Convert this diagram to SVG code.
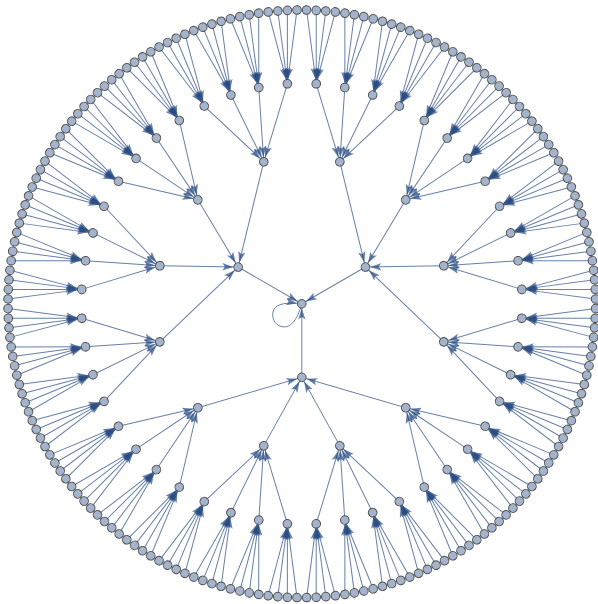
<svg xmlns="http://www.w3.org/2000/svg" width="598" height="604" viewBox="0 0 598 604">
<style>
#edges line,#edges path{stroke:#264a80;stroke-opacity:.7;stroke-width:1;fill:none;marker-end:url(#ah)}
#nodes circle{fill:#a3b4cc;stroke:#4d4d4d;stroke-width:1}
</style>
<defs>
<marker id="ah" markerUnits="userSpaceOnUse" markerWidth="18" markerHeight="8" refX="15.8" refY="4" orient="auto">
<path d="M0,0.3 L11,4 L0,7.7 L2.5,4 Z" fill="#264a80" fill-opacity="0.7"/>
</marker>
</defs>
<rect width="598" height="604" fill="#fff"/>
<g transform="translate(301.8,303.8)">
<g id="edges">
<path d="M0,0 C-5,18 -12,24 -19,23 C-28,22 -31,12 -28,6 C-25,0 -15,-2 0,0"/>
<g transform="rotate(90)"><line x1="73.5" x2="0"/></g>
<g transform="rotate(210)"><line x1="73.5" x2="0"/></g>
<g transform="rotate(330)"><line x1="73.5" x2="0"/></g>
<g transform="rotate(90)"><line x1="103.945" y1="-103.945" x2="73.5"/><line x1="141.991" y1="-38.046" x2="73.5"/><line x1="141.991" y1="38.046" x2="73.5"/><line x1="103.945" y1="103.945" x2="73.5"/></g>
<g transform="rotate(210)"><line x1="103.945" y1="-103.945" x2="73.5"/><line x1="141.991" y1="-38.046" x2="73.5"/><line x1="141.991" y1="38.046" x2="73.5"/><line x1="103.945" y1="103.945" x2="73.5"/></g>
<g transform="rotate(330)"><line x1="103.945" y1="-103.945" x2="73.5"/><line x1="141.991" y1="-38.046" x2="73.5"/><line x1="141.991" y1="38.046" x2="73.5"/><line x1="103.945" y1="103.945" x2="73.5"/></g>
<g transform="rotate(15)"><line x1="216.263" y1="-43.017" x2="147"/><line x1="220.028" y1="-14.421" x2="147"/><line x1="220.028" y1="14.421" x2="147"/><line x1="216.263" y1="43.017" x2="147"/></g>
<g transform="rotate(45)"><line x1="216.263" y1="-43.017" x2="147"/><line x1="220.028" y1="-14.421" x2="147"/><line x1="220.028" y1="14.421" x2="147"/><line x1="216.263" y1="43.017" x2="147"/></g>
<g transform="rotate(75)"><line x1="216.263" y1="-43.017" x2="147"/><line x1="220.028" y1="-14.421" x2="147"/><line x1="220.028" y1="14.421" x2="147"/><line x1="216.263" y1="43.017" x2="147"/></g>
<g transform="rotate(105)"><line x1="216.263" y1="-43.017" x2="147"/><line x1="220.028" y1="-14.421" x2="147"/><line x1="220.028" y1="14.421" x2="147"/><line x1="216.263" y1="43.017" x2="147"/></g>
<g transform="rotate(135)"><line x1="216.263" y1="-43.017" x2="147"/><line x1="220.028" y1="-14.421" x2="147"/><line x1="220.028" y1="14.421" x2="147"/><line x1="216.263" y1="43.017" x2="147"/></g>
<g transform="rotate(165)"><line x1="216.263" y1="-43.017" x2="147"/><line x1="220.028" y1="-14.421" x2="147"/><line x1="220.028" y1="14.421" x2="147"/><line x1="216.263" y1="43.017" x2="147"/></g>
<g transform="rotate(195)"><line x1="216.263" y1="-43.017" x2="147"/><line x1="220.028" y1="-14.421" x2="147"/><line x1="220.028" y1="14.421" x2="147"/><line x1="216.263" y1="43.017" x2="147"/></g>
<g transform="rotate(225)"><line x1="216.263" y1="-43.017" x2="147"/><line x1="220.028" y1="-14.421" x2="147"/><line x1="220.028" y1="14.421" x2="147"/><line x1="216.263" y1="43.017" x2="147"/></g>
<g transform="rotate(255)"><line x1="216.263" y1="-43.017" x2="147"/><line x1="220.028" y1="-14.421" x2="147"/><line x1="220.028" y1="14.421" x2="147"/><line x1="216.263" y1="43.017" x2="147"/></g>
<g transform="rotate(285)"><line x1="216.263" y1="-43.017" x2="147"/><line x1="220.028" y1="-14.421" x2="147"/><line x1="220.028" y1="14.421" x2="147"/><line x1="216.263" y1="43.017" x2="147"/></g>
<g transform="rotate(315)"><line x1="216.263" y1="-43.017" x2="147"/><line x1="220.028" y1="-14.421" x2="147"/><line x1="220.028" y1="14.421" x2="147"/><line x1="216.263" y1="43.017" x2="147"/></g>
<g transform="rotate(345)"><line x1="216.263" y1="-43.017" x2="147"/><line x1="220.028" y1="-14.421" x2="147"/><line x1="220.028" y1="14.421" x2="147"/><line x1="216.263" y1="43.017" x2="147"/></g>
<g transform="rotate(3.75)"><line x1="293.446" y1="-14.416" x2="220.5"/><line x1="293.761" y1="-4.807" x2="220.5"/><line x1="293.761" y1="4.807" x2="220.5"/><line x1="293.446" y1="14.416" x2="220.5"/></g>
<g transform="rotate(11.25)"><line x1="293.446" y1="-14.416" x2="220.5"/><line x1="293.761" y1="-4.807" x2="220.5"/><line x1="293.761" y1="4.807" x2="220.5"/><line x1="293.446" y1="14.416" x2="220.5"/></g>
<g transform="rotate(18.75)"><line x1="293.446" y1="-14.416" x2="220.5"/><line x1="293.761" y1="-4.807" x2="220.5"/><line x1="293.761" y1="4.807" x2="220.5"/><line x1="293.446" y1="14.416" x2="220.5"/></g>
<g transform="rotate(26.25)"><line x1="293.446" y1="-14.416" x2="220.5"/><line x1="293.761" y1="-4.807" x2="220.5"/><line x1="293.761" y1="4.807" x2="220.5"/><line x1="293.446" y1="14.416" x2="220.5"/></g>
<g transform="rotate(33.75)"><line x1="293.446" y1="-14.416" x2="220.5"/><line x1="293.761" y1="-4.807" x2="220.5"/><line x1="293.761" y1="4.807" x2="220.5"/><line x1="293.446" y1="14.416" x2="220.5"/></g>
<g transform="rotate(41.25)"><line x1="293.446" y1="-14.416" x2="220.5"/><line x1="293.761" y1="-4.807" x2="220.5"/><line x1="293.761" y1="4.807" x2="220.5"/><line x1="293.446" y1="14.416" x2="220.5"/></g>
<g transform="rotate(48.75)"><line x1="293.446" y1="-14.416" x2="220.5"/><line x1="293.761" y1="-4.807" x2="220.5"/><line x1="293.761" y1="4.807" x2="220.5"/><line x1="293.446" y1="14.416" x2="220.5"/></g>
<g transform="rotate(56.25)"><line x1="293.446" y1="-14.416" x2="220.5"/><line x1="293.761" y1="-4.807" x2="220.5"/><line x1="293.761" y1="4.807" x2="220.5"/><line x1="293.446" y1="14.416" x2="220.5"/></g>
<g transform="rotate(63.75)"><line x1="293.446" y1="-14.416" x2="220.5"/><line x1="293.761" y1="-4.807" x2="220.5"/><line x1="293.761" y1="4.807" x2="220.5"/><line x1="293.446" y1="14.416" x2="220.5"/></g>
<g transform="rotate(71.25)"><line x1="293.446" y1="-14.416" x2="220.5"/><line x1="293.761" y1="-4.807" x2="220.5"/><line x1="293.761" y1="4.807" x2="220.5"/><line x1="293.446" y1="14.416" x2="220.5"/></g>
<g transform="rotate(78.75)"><line x1="293.446" y1="-14.416" x2="220.5"/><line x1="293.761" y1="-4.807" x2="220.5"/><line x1="293.761" y1="4.807" x2="220.5"/><line x1="293.446" y1="14.416" x2="220.5"/></g>
<g transform="rotate(86.25)"><line x1="293.446" y1="-14.416" x2="220.5"/><line x1="293.761" y1="-4.807" x2="220.5"/><line x1="293.761" y1="4.807" x2="220.5"/><line x1="293.446" y1="14.416" x2="220.5"/></g>
<g transform="rotate(93.75)"><line x1="293.446" y1="-14.416" x2="220.5"/><line x1="293.761" y1="-4.807" x2="220.5"/><line x1="293.761" y1="4.807" x2="220.5"/><line x1="293.446" y1="14.416" x2="220.5"/></g>
<g transform="rotate(101.25)"><line x1="293.446" y1="-14.416" x2="220.5"/><line x1="293.761" y1="-4.807" x2="220.5"/><line x1="293.761" y1="4.807" x2="220.5"/><line x1="293.446" y1="14.416" x2="220.5"/></g>
<g transform="rotate(108.75)"><line x1="293.446" y1="-14.416" x2="220.5"/><line x1="293.761" y1="-4.807" x2="220.5"/><line x1="293.761" y1="4.807" x2="220.5"/><line x1="293.446" y1="14.416" x2="220.5"/></g>
<g transform="rotate(116.25)"><line x1="293.446" y1="-14.416" x2="220.5"/><line x1="293.761" y1="-4.807" x2="220.5"/><line x1="293.761" y1="4.807" x2="220.5"/><line x1="293.446" y1="14.416" x2="220.5"/></g>
<g transform="rotate(123.75)"><line x1="293.446" y1="-14.416" x2="220.5"/><line x1="293.761" y1="-4.807" x2="220.5"/><line x1="293.761" y1="4.807" x2="220.5"/><line x1="293.446" y1="14.416" x2="220.5"/></g>
<g transform="rotate(131.25)"><line x1="293.446" y1="-14.416" x2="220.5"/><line x1="293.761" y1="-4.807" x2="220.5"/><line x1="293.761" y1="4.807" x2="220.5"/><line x1="293.446" y1="14.416" x2="220.5"/></g>
<g transform="rotate(138.75)"><line x1="293.446" y1="-14.416" x2="220.5"/><line x1="293.761" y1="-4.807" x2="220.5"/><line x1="293.761" y1="4.807" x2="220.5"/><line x1="293.446" y1="14.416" x2="220.5"/></g>
<g transform="rotate(146.25)"><line x1="293.446" y1="-14.416" x2="220.5"/><line x1="293.761" y1="-4.807" x2="220.5"/><line x1="293.761" y1="4.807" x2="220.5"/><line x1="293.446" y1="14.416" x2="220.5"/></g>
<g transform="rotate(153.75)"><line x1="293.446" y1="-14.416" x2="220.5"/><line x1="293.761" y1="-4.807" x2="220.5"/><line x1="293.761" y1="4.807" x2="220.5"/><line x1="293.446" y1="14.416" x2="220.5"/></g>
<g transform="rotate(161.25)"><line x1="293.446" y1="-14.416" x2="220.5"/><line x1="293.761" y1="-4.807" x2="220.5"/><line x1="293.761" y1="4.807" x2="220.5"/><line x1="293.446" y1="14.416" x2="220.5"/></g>
<g transform="rotate(168.75)"><line x1="293.446" y1="-14.416" x2="220.5"/><line x1="293.761" y1="-4.807" x2="220.5"/><line x1="293.761" y1="4.807" x2="220.5"/><line x1="293.446" y1="14.416" x2="220.5"/></g>
<g transform="rotate(176.25)"><line x1="293.446" y1="-14.416" x2="220.5"/><line x1="293.761" y1="-4.807" x2="220.5"/><line x1="293.761" y1="4.807" x2="220.5"/><line x1="293.446" y1="14.416" x2="220.5"/></g>
<g transform="rotate(183.75)"><line x1="293.446" y1="-14.416" x2="220.5"/><line x1="293.761" y1="-4.807" x2="220.5"/><line x1="293.761" y1="4.807" x2="220.5"/><line x1="293.446" y1="14.416" x2="220.5"/></g>
<g transform="rotate(191.25)"><line x1="293.446" y1="-14.416" x2="220.5"/><line x1="293.761" y1="-4.807" x2="220.5"/><line x1="293.761" y1="4.807" x2="220.5"/><line x1="293.446" y1="14.416" x2="220.5"/></g>
<g transform="rotate(198.75)"><line x1="293.446" y1="-14.416" x2="220.5"/><line x1="293.761" y1="-4.807" x2="220.5"/><line x1="293.761" y1="4.807" x2="220.5"/><line x1="293.446" y1="14.416" x2="220.5"/></g>
<g transform="rotate(206.25)"><line x1="293.446" y1="-14.416" x2="220.5"/><line x1="293.761" y1="-4.807" x2="220.5"/><line x1="293.761" y1="4.807" x2="220.5"/><line x1="293.446" y1="14.416" x2="220.5"/></g>
<g transform="rotate(213.75)"><line x1="293.446" y1="-14.416" x2="220.5"/><line x1="293.761" y1="-4.807" x2="220.5"/><line x1="293.761" y1="4.807" x2="220.5"/><line x1="293.446" y1="14.416" x2="220.5"/></g>
<g transform="rotate(221.25)"><line x1="293.446" y1="-14.416" x2="220.5"/><line x1="293.761" y1="-4.807" x2="220.5"/><line x1="293.761" y1="4.807" x2="220.5"/><line x1="293.446" y1="14.416" x2="220.5"/></g>
<g transform="rotate(228.75)"><line x1="293.446" y1="-14.416" x2="220.5"/><line x1="293.761" y1="-4.807" x2="220.5"/><line x1="293.761" y1="4.807" x2="220.5"/><line x1="293.446" y1="14.416" x2="220.5"/></g>
<g transform="rotate(236.25)"><line x1="293.446" y1="-14.416" x2="220.5"/><line x1="293.761" y1="-4.807" x2="220.5"/><line x1="293.761" y1="4.807" x2="220.5"/><line x1="293.446" y1="14.416" x2="220.5"/></g>
<g transform="rotate(243.75)"><line x1="293.446" y1="-14.416" x2="220.5"/><line x1="293.761" y1="-4.807" x2="220.5"/><line x1="293.761" y1="4.807" x2="220.5"/><line x1="293.446" y1="14.416" x2="220.5"/></g>
<g transform="rotate(251.25)"><line x1="293.446" y1="-14.416" x2="220.5"/><line x1="293.761" y1="-4.807" x2="220.5"/><line x1="293.761" y1="4.807" x2="220.5"/><line x1="293.446" y1="14.416" x2="220.5"/></g>
<g transform="rotate(258.75)"><line x1="293.446" y1="-14.416" x2="220.5"/><line x1="293.761" y1="-4.807" x2="220.5"/><line x1="293.761" y1="4.807" x2="220.5"/><line x1="293.446" y1="14.416" x2="220.5"/></g>
<g transform="rotate(266.25)"><line x1="293.446" y1="-14.416" x2="220.5"/><line x1="293.761" y1="-4.807" x2="220.5"/><line x1="293.761" y1="4.807" x2="220.5"/><line x1="293.446" y1="14.416" x2="220.5"/></g>
<g transform="rotate(273.75)"><line x1="293.446" y1="-14.416" x2="220.5"/><line x1="293.761" y1="-4.807" x2="220.5"/><line x1="293.761" y1="4.807" x2="220.5"/><line x1="293.446" y1="14.416" x2="220.5"/></g>
<g transform="rotate(281.25)"><line x1="293.446" y1="-14.416" x2="220.5"/><line x1="293.761" y1="-4.807" x2="220.5"/><line x1="293.761" y1="4.807" x2="220.5"/><line x1="293.446" y1="14.416" x2="220.5"/></g>
<g transform="rotate(288.75)"><line x1="293.446" y1="-14.416" x2="220.5"/><line x1="293.761" y1="-4.807" x2="220.5"/><line x1="293.761" y1="4.807" x2="220.5"/><line x1="293.446" y1="14.416" x2="220.5"/></g>
<g transform="rotate(296.25)"><line x1="293.446" y1="-14.416" x2="220.5"/><line x1="293.761" y1="-4.807" x2="220.5"/><line x1="293.761" y1="4.807" x2="220.5"/><line x1="293.446" y1="14.416" x2="220.5"/></g>
<g transform="rotate(303.75)"><line x1="293.446" y1="-14.416" x2="220.5"/><line x1="293.761" y1="-4.807" x2="220.5"/><line x1="293.761" y1="4.807" x2="220.5"/><line x1="293.446" y1="14.416" x2="220.5"/></g>
<g transform="rotate(311.25)"><line x1="293.446" y1="-14.416" x2="220.5"/><line x1="293.761" y1="-4.807" x2="220.5"/><line x1="293.761" y1="4.807" x2="220.5"/><line x1="293.446" y1="14.416" x2="220.5"/></g>
<g transform="rotate(318.75)"><line x1="293.446" y1="-14.416" x2="220.5"/><line x1="293.761" y1="-4.807" x2="220.5"/><line x1="293.761" y1="4.807" x2="220.5"/><line x1="293.446" y1="14.416" x2="220.5"/></g>
<g transform="rotate(326.25)"><line x1="293.446" y1="-14.416" x2="220.5"/><line x1="293.761" y1="-4.807" x2="220.5"/><line x1="293.761" y1="4.807" x2="220.5"/><line x1="293.446" y1="14.416" x2="220.5"/></g>
<g transform="rotate(333.75)"><line x1="293.446" y1="-14.416" x2="220.5"/><line x1="293.761" y1="-4.807" x2="220.5"/><line x1="293.761" y1="4.807" x2="220.5"/><line x1="293.446" y1="14.416" x2="220.5"/></g>
<g transform="rotate(341.25)"><line x1="293.446" y1="-14.416" x2="220.5"/><line x1="293.761" y1="-4.807" x2="220.5"/><line x1="293.761" y1="4.807" x2="220.5"/><line x1="293.446" y1="14.416" x2="220.5"/></g>
<g transform="rotate(348.75)"><line x1="293.446" y1="-14.416" x2="220.5"/><line x1="293.761" y1="-4.807" x2="220.5"/><line x1="293.761" y1="4.807" x2="220.5"/><line x1="293.446" y1="14.416" x2="220.5"/></g>
<g transform="rotate(356.25)"><line x1="293.446" y1="-14.416" x2="220.5"/><line x1="293.761" y1="-4.807" x2="220.5"/><line x1="293.761" y1="4.807" x2="220.5"/><line x1="293.446" y1="14.416" x2="220.5"/></g>
</g>
<g id="nodes">
<g id="n0"><circle r="4.3"/></g>
<g id="a0" transform="rotate(90)"><circle cx="73.5" r="4.3"/></g>
<g id="a1" transform="rotate(210)"><circle cx="73.5" r="4.3"/></g>
<g id="a2" transform="rotate(330)"><circle cx="73.5" r="4.3"/></g>
<g id="b0" transform="rotate(15)"><circle cx="147" r="4.3"/></g>
<g id="b1" transform="rotate(45)"><circle cx="147" r="4.3"/></g>
<g id="b2" transform="rotate(75)"><circle cx="147" r="4.3"/></g>
<g id="b3" transform="rotate(105)"><circle cx="147" r="4.3"/></g>
<g id="b4" transform="rotate(135)"><circle cx="147" r="4.3"/></g>
<g id="b5" transform="rotate(165)"><circle cx="147" r="4.3"/></g>
<g id="b6" transform="rotate(195)"><circle cx="147" r="4.3"/></g>
<g id="b7" transform="rotate(225)"><circle cx="147" r="4.3"/></g>
<g id="b8" transform="rotate(255)"><circle cx="147" r="4.3"/></g>
<g id="b9" transform="rotate(285)"><circle cx="147" r="4.3"/></g>
<g id="b10" transform="rotate(315)"><circle cx="147" r="4.3"/></g>
<g id="b11" transform="rotate(345)"><circle cx="147" r="4.3"/></g>
<g id="c0" transform="rotate(3.75)"><circle cx="220.5" r="4.3"/></g>
<g id="c1" transform="rotate(11.25)"><circle cx="220.5" r="4.3"/></g>
<g id="c2" transform="rotate(18.75)"><circle cx="220.5" r="4.3"/></g>
<g id="c3" transform="rotate(26.25)"><circle cx="220.5" r="4.3"/></g>
<g id="c4" transform="rotate(33.75)"><circle cx="220.5" r="4.3"/></g>
<g id="c5" transform="rotate(41.25)"><circle cx="220.5" r="4.3"/></g>
<g id="c6" transform="rotate(48.75)"><circle cx="220.5" r="4.3"/></g>
<g id="c7" transform="rotate(56.25)"><circle cx="220.5" r="4.3"/></g>
<g id="c8" transform="rotate(63.75)"><circle cx="220.5" r="4.3"/></g>
<g id="c9" transform="rotate(71.25)"><circle cx="220.5" r="4.3"/></g>
<g id="c10" transform="rotate(78.75)"><circle cx="220.5" r="4.3"/></g>
<g id="c11" transform="rotate(86.25)"><circle cx="220.5" r="4.3"/></g>
<g id="c12" transform="rotate(93.75)"><circle cx="220.5" r="4.3"/></g>
<g id="c13" transform="rotate(101.25)"><circle cx="220.5" r="4.3"/></g>
<g id="c14" transform="rotate(108.75)"><circle cx="220.5" r="4.3"/></g>
<g id="c15" transform="rotate(116.25)"><circle cx="220.5" r="4.3"/></g>
<g id="c16" transform="rotate(123.75)"><circle cx="220.5" r="4.3"/></g>
<g id="c17" transform="rotate(131.25)"><circle cx="220.5" r="4.3"/></g>
<g id="c18" transform="rotate(138.75)"><circle cx="220.5" r="4.3"/></g>
<g id="c19" transform="rotate(146.25)"><circle cx="220.5" r="4.3"/></g>
<g id="c20" transform="rotate(153.75)"><circle cx="220.5" r="4.3"/></g>
<g id="c21" transform="rotate(161.25)"><circle cx="220.5" r="4.3"/></g>
<g id="c22" transform="rotate(168.75)"><circle cx="220.5" r="4.3"/></g>
<g id="c23" transform="rotate(176.25)"><circle cx="220.5" r="4.3"/></g>
<g id="c24" transform="rotate(183.75)"><circle cx="220.5" r="4.3"/></g>
<g id="c25" transform="rotate(191.25)"><circle cx="220.5" r="4.3"/></g>
<g id="c26" transform="rotate(198.75)"><circle cx="220.5" r="4.3"/></g>
<g id="c27" transform="rotate(206.25)"><circle cx="220.5" r="4.3"/></g>
<g id="c28" transform="rotate(213.75)"><circle cx="220.5" r="4.3"/></g>
<g id="c29" transform="rotate(221.25)"><circle cx="220.5" r="4.3"/></g>
<g id="c30" transform="rotate(228.75)"><circle cx="220.5" r="4.3"/></g>
<g id="c31" transform="rotate(236.25)"><circle cx="220.5" r="4.3"/></g>
<g id="c32" transform="rotate(243.75)"><circle cx="220.5" r="4.3"/></g>
<g id="c33" transform="rotate(251.25)"><circle cx="220.5" r="4.3"/></g>
<g id="c34" transform="rotate(258.75)"><circle cx="220.5" r="4.3"/></g>
<g id="c35" transform="rotate(266.25)"><circle cx="220.5" r="4.3"/></g>
<g id="c36" transform="rotate(273.75)"><circle cx="220.5" r="4.3"/></g>
<g id="c37" transform="rotate(281.25)"><circle cx="220.5" r="4.3"/></g>
<g id="c38" transform="rotate(288.75)"><circle cx="220.5" r="4.3"/></g>
<g id="c39" transform="rotate(296.25)"><circle cx="220.5" r="4.3"/></g>
<g id="c40" transform="rotate(303.75)"><circle cx="220.5" r="4.3"/></g>
<g id="c41" transform="rotate(311.25)"><circle cx="220.5" r="4.3"/></g>
<g id="c42" transform="rotate(318.75)"><circle cx="220.5" r="4.3"/></g>
<g id="c43" transform="rotate(326.25)"><circle cx="220.5" r="4.3"/></g>
<g id="c44" transform="rotate(333.75)"><circle cx="220.5" r="4.3"/></g>
<g id="c45" transform="rotate(341.25)"><circle cx="220.5" r="4.3"/></g>
<g id="c46" transform="rotate(348.75)"><circle cx="220.5" r="4.3"/></g>
<g id="c47" transform="rotate(356.25)"><circle cx="220.5" r="4.3"/></g>
<g id="d0" transform="rotate(0.9375)"><circle cx="293.8" r="4.3"/></g>
<g id="d1" transform="rotate(2.8125)"><circle cx="293.8" r="4.3"/></g>
<g id="d2" transform="rotate(4.6875)"><circle cx="293.8" r="4.3"/></g>
<g id="d3" transform="rotate(6.5625)"><circle cx="293.8" r="4.3"/></g>
<g id="d4" transform="rotate(8.4375)"><circle cx="293.8" r="4.3"/></g>
<g id="d5" transform="rotate(10.3125)"><circle cx="293.8" r="4.3"/></g>
<g id="d6" transform="rotate(12.1875)"><circle cx="293.8" r="4.3"/></g>
<g id="d7" transform="rotate(14.0625)"><circle cx="293.8" r="4.3"/></g>
<g id="d8" transform="rotate(15.9375)"><circle cx="293.8" r="4.3"/></g>
<g id="d9" transform="rotate(17.8125)"><circle cx="293.8" r="4.3"/></g>
<g id="d10" transform="rotate(19.6875)"><circle cx="293.8" r="4.3"/></g>
<g id="d11" transform="rotate(21.5625)"><circle cx="293.8" r="4.3"/></g>
<g id="d12" transform="rotate(23.4375)"><circle cx="293.8" r="4.3"/></g>
<g id="d13" transform="rotate(25.3125)"><circle cx="293.8" r="4.3"/></g>
<g id="d14" transform="rotate(27.1875)"><circle cx="293.8" r="4.3"/></g>
<g id="d15" transform="rotate(29.0625)"><circle cx="293.8" r="4.3"/></g>
<g id="d16" transform="rotate(30.9375)"><circle cx="293.8" r="4.3"/></g>
<g id="d17" transform="rotate(32.8125)"><circle cx="293.8" r="4.3"/></g>
<g id="d18" transform="rotate(34.6875)"><circle cx="293.8" r="4.3"/></g>
<g id="d19" transform="rotate(36.5625)"><circle cx="293.8" r="4.3"/></g>
<g id="d20" transform="rotate(38.4375)"><circle cx="293.8" r="4.3"/></g>
<g id="d21" transform="rotate(40.3125)"><circle cx="293.8" r="4.3"/></g>
<g id="d22" transform="rotate(42.1875)"><circle cx="293.8" r="4.3"/></g>
<g id="d23" transform="rotate(44.0625)"><circle cx="293.8" r="4.3"/></g>
<g id="d24" transform="rotate(45.9375)"><circle cx="293.8" r="4.3"/></g>
<g id="d25" transform="rotate(47.8125)"><circle cx="293.8" r="4.3"/></g>
<g id="d26" transform="rotate(49.6875)"><circle cx="293.8" r="4.3"/></g>
<g id="d27" transform="rotate(51.5625)"><circle cx="293.8" r="4.3"/></g>
<g id="d28" transform="rotate(53.4375)"><circle cx="293.8" r="4.3"/></g>
<g id="d29" transform="rotate(55.3125)"><circle cx="293.8" r="4.3"/></g>
<g id="d30" transform="rotate(57.1875)"><circle cx="293.8" r="4.3"/></g>
<g id="d31" transform="rotate(59.0625)"><circle cx="293.8" r="4.3"/></g>
<g id="d32" transform="rotate(60.9375)"><circle cx="293.8" r="4.3"/></g>
<g id="d33" transform="rotate(62.8125)"><circle cx="293.8" r="4.3"/></g>
<g id="d34" transform="rotate(64.6875)"><circle cx="293.8" r="4.3"/></g>
<g id="d35" transform="rotate(66.5625)"><circle cx="293.8" r="4.3"/></g>
<g id="d36" transform="rotate(68.4375)"><circle cx="293.8" r="4.3"/></g>
<g id="d37" transform="rotate(70.3125)"><circle cx="293.8" r="4.3"/></g>
<g id="d38" transform="rotate(72.1875)"><circle cx="293.8" r="4.3"/></g>
<g id="d39" transform="rotate(74.0625)"><circle cx="293.8" r="4.3"/></g>
<g id="d40" transform="rotate(75.9375)"><circle cx="293.8" r="4.3"/></g>
<g id="d41" transform="rotate(77.8125)"><circle cx="293.8" r="4.3"/></g>
<g id="d42" transform="rotate(79.6875)"><circle cx="293.8" r="4.3"/></g>
<g id="d43" transform="rotate(81.5625)"><circle cx="293.8" r="4.3"/></g>
<g id="d44" transform="rotate(83.4375)"><circle cx="293.8" r="4.3"/></g>
<g id="d45" transform="rotate(85.3125)"><circle cx="293.8" r="4.3"/></g>
<g id="d46" transform="rotate(87.1875)"><circle cx="293.8" r="4.3"/></g>
<g id="d47" transform="rotate(89.0625)"><circle cx="293.8" r="4.3"/></g>
<g id="d48" transform="rotate(90.9375)"><circle cx="293.8" r="4.3"/></g>
<g id="d49" transform="rotate(92.8125)"><circle cx="293.8" r="4.3"/></g>
<g id="d50" transform="rotate(94.6875)"><circle cx="293.8" r="4.3"/></g>
<g id="d51" transform="rotate(96.5625)"><circle cx="293.8" r="4.3"/></g>
<g id="d52" transform="rotate(98.4375)"><circle cx="293.8" r="4.3"/></g>
<g id="d53" transform="rotate(100.3125)"><circle cx="293.8" r="4.3"/></g>
<g id="d54" transform="rotate(102.1875)"><circle cx="293.8" r="4.3"/></g>
<g id="d55" transform="rotate(104.0625)"><circle cx="293.8" r="4.3"/></g>
<g id="d56" transform="rotate(105.9375)"><circle cx="293.8" r="4.3"/></g>
<g id="d57" transform="rotate(107.8125)"><circle cx="293.8" r="4.3"/></g>
<g id="d58" transform="rotate(109.6875)"><circle cx="293.8" r="4.3"/></g>
<g id="d59" transform="rotate(111.5625)"><circle cx="293.8" r="4.3"/></g>
<g id="d60" transform="rotate(113.4375)"><circle cx="293.8" r="4.3"/></g>
<g id="d61" transform="rotate(115.3125)"><circle cx="293.8" r="4.3"/></g>
<g id="d62" transform="rotate(117.1875)"><circle cx="293.8" r="4.3"/></g>
<g id="d63" transform="rotate(119.0625)"><circle cx="293.8" r="4.3"/></g>
<g id="d64" transform="rotate(120.9375)"><circle cx="293.8" r="4.3"/></g>
<g id="d65" transform="rotate(122.8125)"><circle cx="293.8" r="4.3"/></g>
<g id="d66" transform="rotate(124.6875)"><circle cx="293.8" r="4.3"/></g>
<g id="d67" transform="rotate(126.5625)"><circle cx="293.8" r="4.3"/></g>
<g id="d68" transform="rotate(128.4375)"><circle cx="293.8" r="4.3"/></g>
<g id="d69" transform="rotate(130.3125)"><circle cx="293.8" r="4.3"/></g>
<g id="d70" transform="rotate(132.1875)"><circle cx="293.8" r="4.3"/></g>
<g id="d71" transform="rotate(134.0625)"><circle cx="293.8" r="4.3"/></g>
<g id="d72" transform="rotate(135.9375)"><circle cx="293.8" r="4.3"/></g>
<g id="d73" transform="rotate(137.8125)"><circle cx="293.8" r="4.3"/></g>
<g id="d74" transform="rotate(139.6875)"><circle cx="293.8" r="4.3"/></g>
<g id="d75" transform="rotate(141.5625)"><circle cx="293.8" r="4.3"/></g>
<g id="d76" transform="rotate(143.4375)"><circle cx="293.8" r="4.3"/></g>
<g id="d77" transform="rotate(145.3125)"><circle cx="293.8" r="4.3"/></g>
<g id="d78" transform="rotate(147.1875)"><circle cx="293.8" r="4.3"/></g>
<g id="d79" transform="rotate(149.0625)"><circle cx="293.8" r="4.3"/></g>
<g id="d80" transform="rotate(150.9375)"><circle cx="293.8" r="4.3"/></g>
<g id="d81" transform="rotate(152.8125)"><circle cx="293.8" r="4.3"/></g>
<g id="d82" transform="rotate(154.6875)"><circle cx="293.8" r="4.3"/></g>
<g id="d83" transform="rotate(156.5625)"><circle cx="293.8" r="4.3"/></g>
<g id="d84" transform="rotate(158.4375)"><circle cx="293.8" r="4.3"/></g>
<g id="d85" transform="rotate(160.3125)"><circle cx="293.8" r="4.3"/></g>
<g id="d86" transform="rotate(162.1875)"><circle cx="293.8" r="4.3"/></g>
<g id="d87" transform="rotate(164.0625)"><circle cx="293.8" r="4.3"/></g>
<g id="d88" transform="rotate(165.9375)"><circle cx="293.8" r="4.3"/></g>
<g id="d89" transform="rotate(167.8125)"><circle cx="293.8" r="4.3"/></g>
<g id="d90" transform="rotate(169.6875)"><circle cx="293.8" r="4.3"/></g>
<g id="d91" transform="rotate(171.5625)"><circle cx="293.8" r="4.3"/></g>
<g id="d92" transform="rotate(173.4375)"><circle cx="293.8" r="4.3"/></g>
<g id="d93" transform="rotate(175.3125)"><circle cx="293.8" r="4.3"/></g>
<g id="d94" transform="rotate(177.1875)"><circle cx="293.8" r="4.3"/></g>
<g id="d95" transform="rotate(179.0625)"><circle cx="293.8" r="4.3"/></g>
<g id="d96" transform="rotate(180.9375)"><circle cx="293.8" r="4.3"/></g>
<g id="d97" transform="rotate(182.8125)"><circle cx="293.8" r="4.3"/></g>
<g id="d98" transform="rotate(184.6875)"><circle cx="293.8" r="4.3"/></g>
<g id="d99" transform="rotate(186.5625)"><circle cx="293.8" r="4.3"/></g>
<g id="d100" transform="rotate(188.4375)"><circle cx="293.8" r="4.3"/></g>
<g id="d101" transform="rotate(190.3125)"><circle cx="293.8" r="4.3"/></g>
<g id="d102" transform="rotate(192.1875)"><circle cx="293.8" r="4.3"/></g>
<g id="d103" transform="rotate(194.0625)"><circle cx="293.8" r="4.3"/></g>
<g id="d104" transform="rotate(195.9375)"><circle cx="293.8" r="4.3"/></g>
<g id="d105" transform="rotate(197.8125)"><circle cx="293.8" r="4.3"/></g>
<g id="d106" transform="rotate(199.6875)"><circle cx="293.8" r="4.3"/></g>
<g id="d107" transform="rotate(201.5625)"><circle cx="293.8" r="4.3"/></g>
<g id="d108" transform="rotate(203.4375)"><circle cx="293.8" r="4.3"/></g>
<g id="d109" transform="rotate(205.3125)"><circle cx="293.8" r="4.3"/></g>
<g id="d110" transform="rotate(207.1875)"><circle cx="293.8" r="4.3"/></g>
<g id="d111" transform="rotate(209.0625)"><circle cx="293.8" r="4.3"/></g>
<g id="d112" transform="rotate(210.9375)"><circle cx="293.8" r="4.3"/></g>
<g id="d113" transform="rotate(212.8125)"><circle cx="293.8" r="4.3"/></g>
<g id="d114" transform="rotate(214.6875)"><circle cx="293.8" r="4.3"/></g>
<g id="d115" transform="rotate(216.5625)"><circle cx="293.8" r="4.3"/></g>
<g id="d116" transform="rotate(218.4375)"><circle cx="293.8" r="4.3"/></g>
<g id="d117" transform="rotate(220.3125)"><circle cx="293.8" r="4.3"/></g>
<g id="d118" transform="rotate(222.1875)"><circle cx="293.8" r="4.3"/></g>
<g id="d119" transform="rotate(224.0625)"><circle cx="293.8" r="4.3"/></g>
<g id="d120" transform="rotate(225.9375)"><circle cx="293.8" r="4.3"/></g>
<g id="d121" transform="rotate(227.8125)"><circle cx="293.8" r="4.3"/></g>
<g id="d122" transform="rotate(229.6875)"><circle cx="293.8" r="4.3"/></g>
<g id="d123" transform="rotate(231.5625)"><circle cx="293.8" r="4.3"/></g>
<g id="d124" transform="rotate(233.4375)"><circle cx="293.8" r="4.3"/></g>
<g id="d125" transform="rotate(235.3125)"><circle cx="293.8" r="4.3"/></g>
<g id="d126" transform="rotate(237.1875)"><circle cx="293.8" r="4.3"/></g>
<g id="d127" transform="rotate(239.0625)"><circle cx="293.8" r="4.3"/></g>
<g id="d128" transform="rotate(240.9375)"><circle cx="293.8" r="4.3"/></g>
<g id="d129" transform="rotate(242.8125)"><circle cx="293.8" r="4.3"/></g>
<g id="d130" transform="rotate(244.6875)"><circle cx="293.8" r="4.3"/></g>
<g id="d131" transform="rotate(246.5625)"><circle cx="293.8" r="4.3"/></g>
<g id="d132" transform="rotate(248.4375)"><circle cx="293.8" r="4.3"/></g>
<g id="d133" transform="rotate(250.3125)"><circle cx="293.8" r="4.3"/></g>
<g id="d134" transform="rotate(252.1875)"><circle cx="293.8" r="4.3"/></g>
<g id="d135" transform="rotate(254.0625)"><circle cx="293.8" r="4.3"/></g>
<g id="d136" transform="rotate(255.9375)"><circle cx="293.8" r="4.3"/></g>
<g id="d137" transform="rotate(257.8125)"><circle cx="293.8" r="4.3"/></g>
<g id="d138" transform="rotate(259.6875)"><circle cx="293.8" r="4.3"/></g>
<g id="d139" transform="rotate(261.5625)"><circle cx="293.8" r="4.3"/></g>
<g id="d140" transform="rotate(263.4375)"><circle cx="293.8" r="4.3"/></g>
<g id="d141" transform="rotate(265.3125)"><circle cx="293.8" r="4.3"/></g>
<g id="d142" transform="rotate(267.1875)"><circle cx="293.8" r="4.3"/></g>
<g id="d143" transform="rotate(269.0625)"><circle cx="293.8" r="4.3"/></g>
<g id="d144" transform="rotate(270.9375)"><circle cx="293.8" r="4.3"/></g>
<g id="d145" transform="rotate(272.8125)"><circle cx="293.8" r="4.3"/></g>
<g id="d146" transform="rotate(274.6875)"><circle cx="293.8" r="4.3"/></g>
<g id="d147" transform="rotate(276.5625)"><circle cx="293.8" r="4.3"/></g>
<g id="d148" transform="rotate(278.4375)"><circle cx="293.8" r="4.3"/></g>
<g id="d149" transform="rotate(280.3125)"><circle cx="293.8" r="4.3"/></g>
<g id="d150" transform="rotate(282.1875)"><circle cx="293.8" r="4.3"/></g>
<g id="d151" transform="rotate(284.0625)"><circle cx="293.8" r="4.3"/></g>
<g id="d152" transform="rotate(285.9375)"><circle cx="293.8" r="4.3"/></g>
<g id="d153" transform="rotate(287.8125)"><circle cx="293.8" r="4.3"/></g>
<g id="d154" transform="rotate(289.6875)"><circle cx="293.8" r="4.3"/></g>
<g id="d155" transform="rotate(291.5625)"><circle cx="293.8" r="4.3"/></g>
<g id="d156" transform="rotate(293.4375)"><circle cx="293.8" r="4.3"/></g>
<g id="d157" transform="rotate(295.3125)"><circle cx="293.8" r="4.3"/></g>
<g id="d158" transform="rotate(297.1875)"><circle cx="293.8" r="4.3"/></g>
<g id="d159" transform="rotate(299.0625)"><circle cx="293.8" r="4.3"/></g>
<g id="d160" transform="rotate(300.9375)"><circle cx="293.8" r="4.3"/></g>
<g id="d161" transform="rotate(302.8125)"><circle cx="293.8" r="4.3"/></g>
<g id="d162" transform="rotate(304.6875)"><circle cx="293.8" r="4.3"/></g>
<g id="d163" transform="rotate(306.5625)"><circle cx="293.8" r="4.3"/></g>
<g id="d164" transform="rotate(308.4375)"><circle cx="293.8" r="4.3"/></g>
<g id="d165" transform="rotate(310.3125)"><circle cx="293.8" r="4.3"/></g>
<g id="d166" transform="rotate(312.1875)"><circle cx="293.8" r="4.3"/></g>
<g id="d167" transform="rotate(314.0625)"><circle cx="293.8" r="4.3"/></g>
<g id="d168" transform="rotate(315.9375)"><circle cx="293.8" r="4.3"/></g>
<g id="d169" transform="rotate(317.8125)"><circle cx="293.8" r="4.3"/></g>
<g id="d170" transform="rotate(319.6875)"><circle cx="293.8" r="4.3"/></g>
<g id="d171" transform="rotate(321.5625)"><circle cx="293.8" r="4.3"/></g>
<g id="d172" transform="rotate(323.4375)"><circle cx="293.8" r="4.3"/></g>
<g id="d173" transform="rotate(325.3125)"><circle cx="293.8" r="4.3"/></g>
<g id="d174" transform="rotate(327.1875)"><circle cx="293.8" r="4.3"/></g>
<g id="d175" transform="rotate(329.0625)"><circle cx="293.8" r="4.3"/></g>
<g id="d176" transform="rotate(330.9375)"><circle cx="293.8" r="4.3"/></g>
<g id="d177" transform="rotate(332.8125)"><circle cx="293.8" r="4.3"/></g>
<g id="d178" transform="rotate(334.6875)"><circle cx="293.8" r="4.3"/></g>
<g id="d179" transform="rotate(336.5625)"><circle cx="293.8" r="4.3"/></g>
<g id="d180" transform="rotate(338.4375)"><circle cx="293.8" r="4.3"/></g>
<g id="d181" transform="rotate(340.3125)"><circle cx="293.8" r="4.3"/></g>
<g id="d182" transform="rotate(342.1875)"><circle cx="293.8" r="4.3"/></g>
<g id="d183" transform="rotate(344.0625)"><circle cx="293.8" r="4.3"/></g>
<g id="d184" transform="rotate(345.9375)"><circle cx="293.8" r="4.3"/></g>
<g id="d185" transform="rotate(347.8125)"><circle cx="293.8" r="4.3"/></g>
<g id="d186" transform="rotate(349.6875)"><circle cx="293.8" r="4.3"/></g>
<g id="d187" transform="rotate(351.5625)"><circle cx="293.8" r="4.3"/></g>
<g id="d188" transform="rotate(353.4375)"><circle cx="293.8" r="4.3"/></g>
<g id="d189" transform="rotate(355.3125)"><circle cx="293.8" r="4.3"/></g>
<g id="d190" transform="rotate(357.1875)"><circle cx="293.8" r="4.3"/></g>
<g id="d191" transform="rotate(359.0625)"><circle cx="293.8" r="4.3"/></g>
</g>
</g>
</svg>
